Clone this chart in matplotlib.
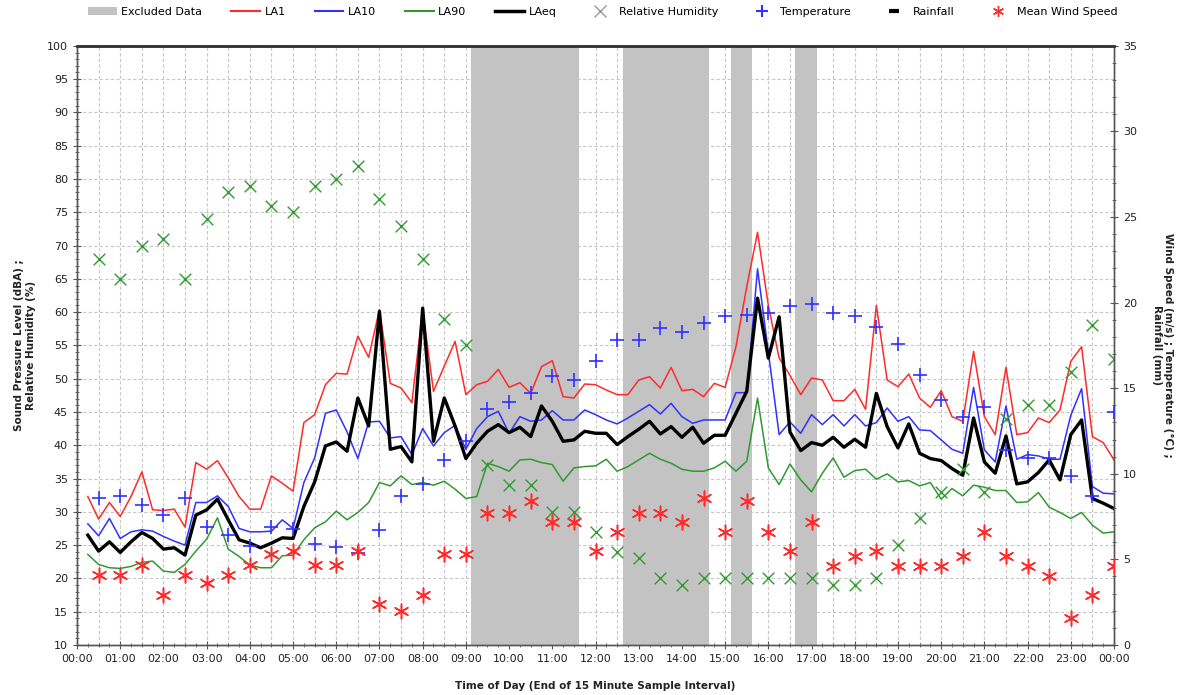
import matplotlib

matplotlib.use("Agg")
import matplotlib.pyplot as plt
import numpy as np
from matplotlib.lines import Line2D
from matplotlib.patches import Patch
from matplotlib.ticker import FuncFormatter, MultipleLocator


# 15 minute noise levels (dBA), one value per interval ending 00:15 ... 24:00
LA1 = [
    32.3, 28.9, 31.4, 29.3, 32.3, 36.0, 30.3, 30.2, 30.4, 27.7, 37.4, 36.4,
    37.7, 35.1, 32.3, 30.4, 30.4, 35.4, 34.3, 33.1, 43.4, 44.6, 49.1, 50.8,
    50.7, 56.4, 53.2, 60.4, 49.3, 48.6, 46.4, 60.4, 48.1, 51.9, 55.6, 47.6,
    49.1, 49.6, 51.4, 48.7, 49.4, 47.8, 51.8, 52.7, 47.3, 47.1, 49.2, 49.1,
    48.3, 47.6, 47.6, 49.8, 50.3, 48.6, 51.7, 48.2, 48.4, 47.3, 49.3, 48.7,
    54.8, 63.8, 72.0, 61.0, 53.1, 50.5, 47.6, 50.1, 49.8, 46.7, 46.7, 48.4,
    45.4, 61.0, 49.8, 48.8, 50.7, 47.1, 45.7, 48.2, 44.3, 43.6, 54.1, 44.3,
    41.6, 51.7, 41.6, 41.9, 44.1, 43.4, 45.3, 52.6, 54.8, 41.3, 40.4, 37.8,
]
LA10 = [
    28.2, 26.4, 29.0, 26.0, 27.0, 27.3, 27.1, 26.3, 25.6, 25.0, 31.4, 31.4,
    32.4, 30.8, 27.5, 27.0, 27.0, 27.1, 28.8, 27.5, 34.4, 38.1, 44.8, 45.3,
    42.0, 38.0, 43.5, 43.6, 41.1, 41.3, 38.6, 42.5, 39.9, 41.9, 43.0, 39.4,
    42.5, 44.3, 45.1, 41.8, 44.3, 43.6, 43.8, 45.2, 43.8, 43.8, 45.3, 44.6,
    43.8, 43.2, 44.1, 45.1, 46.1, 44.7, 46.3, 44.3, 43.3, 43.8, 43.8, 43.8,
    47.9, 47.9, 66.5, 54.0, 41.6, 43.5, 41.8, 44.6, 43.1, 44.6, 42.9, 44.6,
    42.9, 43.4, 45.6, 43.6, 44.3, 42.3, 42.2, 40.8, 39.4, 38.8, 48.7, 39.3,
    37.5, 45.9, 37.9, 38.6, 38.4, 37.9, 37.9, 44.5, 48.5, 33.8, 32.8, 32.7,
]
LA90 = [
    23.6, 22.1, 21.6, 21.5, 21.8, 22.4, 22.6, 21.1, 20.9, 22.1, 24.1, 25.9,
    29.1, 24.4, 23.3, 22.0, 21.6, 21.6, 23.4, 23.5, 25.8, 27.6, 28.5, 30.1,
    28.8, 29.9, 31.4, 34.4, 33.9, 35.4, 34.1, 34.4, 34.0, 34.6, 33.4, 32.0,
    32.3, 37.3, 36.8, 36.1, 37.8, 37.9, 37.4, 37.1, 34.6, 36.6, 36.8, 36.9,
    37.9, 36.1, 36.8, 37.8, 38.8, 37.9, 37.3, 36.4, 36.1, 36.1, 36.6, 37.6,
    36.1, 37.6, 47.1, 36.6, 34.1, 37.2, 34.8, 33.0, 35.8, 38.1, 35.2, 36.2,
    36.4, 34.9, 35.7, 34.5, 34.7, 33.9, 34.4, 31.9, 33.5, 32.4, 34.0, 33.7,
    33.2, 33.2, 31.4, 31.5, 32.9, 30.7, 29.9, 29.0, 29.9, 28.0, 26.8, 27.0,
]
LAEQ = [
    26.5, 24.1, 25.5, 23.9, 25.5, 26.9, 26.0, 24.4, 24.6, 23.5, 29.5, 30.3,
    31.9, 28.8, 25.8, 25.3, 24.6, 25.3, 26.1, 26.0, 30.8, 34.5, 39.9, 40.5,
    39.1, 47.1, 42.9, 60.1, 39.4, 39.8, 37.5, 60.6, 40.6, 47.1, 42.9, 38.0,
    40.3, 42.1, 43.1, 41.9, 42.7, 41.3, 45.9, 43.6, 40.6, 40.8, 42.1, 41.8,
    41.8, 40.1, 41.3, 42.4, 43.6, 41.7, 42.8, 41.2, 42.7, 40.3, 41.5, 41.5,
    44.8, 48.1, 62.1, 53.1, 59.3, 42.0, 39.2, 40.4, 40.0, 41.2, 39.7, 40.9,
    39.7, 47.8, 42.8, 39.6, 43.2, 38.8, 38.0, 37.7, 36.5, 35.5, 44.1, 37.5,
    35.8, 41.4, 34.2, 34.5, 35.9, 37.8, 34.8, 41.6, 43.8, 32.0, 31.3, 30.5,
]

# 30 minute weather readings, intervals ending 00:30 ... 24:00
HUMIDITY = [
    68, 65, 70, 71, 65, 74, 78, 79, 76, 75, 79, 80, 82, 77, 73, 68,
    59, 55, 37, 34, 34, 30, 30, 27, 24, 23, 20, 19, 20, 20, 20, 20,
    20, 20, 19, 19, 20, 25, 29, 33, 36.5, 33, 44, 46, 46, 51, 58, 53,
]
TEMPERATURE = [
    8.6, 8.7, 8.2, 7.6, 8.6, 6.9, 6.4, 5.8, 6.9, 6.8, 5.9, 5.7,
    5.4, 6.7, 8.7, 9.4, 10.8, 11.9, 13.8, 14.2, 14.7, 15.7, 15.5, 16.6,
    17.8, 17.8, 18.5, 18.3, 18.8, 19.2, 19.3, 19.4, 19.8, 19.9, 19.4, 19.2,
    18.6, 17.6, 15.8, 14.3, 13.3, 13.9, 11.4, 10.9, 10.9, 9.9, 8.7, 13.6,
]
WIND_SPEED = [
    4.1, 4.1, 4.7, 2.9, 4.1, 3.6, 4.1, 4.7, 5.3, 5.5, 4.7, 4.7,
    5.5, 2.4, 2.0, 2.9, 5.3, 5.3, 7.7, 7.7, 8.4, 7.2, 7.2, 5.5,
    6.6, 7.7, 7.7, 7.2, 8.6, 6.6, 8.4, 6.6, 5.5, 7.2, 4.6, 5.2,
    5.5, 4.6, 4.6, 4.6, 5.2, 6.6, 5.2, 4.6, 4.0, 1.6, 2.9, 4.6,
]

# excluded periods as (first, last) interval end times in hours
EXCLUDED = [(9.25, 11.5), (12.75, 14.5), (15.25, 15.5), (16.75, 17.0)]

noise_hours = np.arange(1, len(LA1) + 1) * 0.25
weather_hours = np.arange(1, len(HUMIDITY) + 1) * 0.5

RED = "#ff2a2a"
BLUE = "#3030ff"
GREEN = "#2f9a2f"
BAND = "#c3c3c3"
AXIS = "#555555"
GRID = "#c8c8c8"

plt.rcParams["font.family"] = "DejaVu Sans"

fig = plt.figure(figsize=(11.94, 6.95), dpi=100)
ax = fig.add_axes([0.0645, 0.072, 0.8685, 0.862])
ax2 = ax.twinx()

for start, end in EXCLUDED:
    ax.axvspan(start - 0.125, end + 0.125, color=BAND, lw=0, zorder=1)

ax.plot(noise_hours, LA1, color=RED, lw=1.1, zorder=3)
ax.plot(noise_hours, LA10, color=BLUE, lw=1.1, zorder=3)
ax.plot(noise_hours, LA90, color=GREEN, lw=1.1, zorder=3)
ax.plot(noise_hours, LAEQ, color="black", lw=2.4, zorder=4)
ax.scatter(weather_hours, HUMIDITY, marker="x", s=70, color=GREEN, lw=1.0, zorder=5)

ax2.scatter(weather_hours, TEMPERATURE, marker="+", s=110, color=BLUE, lw=1.2, zorder=5)
ax2.scatter(weather_hours, WIND_SPEED, marker=(6, 2, 0), s=110, color=RED, lw=1.1, zorder=5)

ax.set_xlim(0, 24)
ax.set_ylim(10, 100)
ax2.set_ylim(0, 35)

ax.xaxis.set_major_locator(MultipleLocator(1))
ax.xaxis.set_minor_locator(MultipleLocator(0.25))
ax.xaxis.set_major_formatter(FuncFormatter(lambda v, _: f"{int(round(v)) % 24:02d}:00"))
ax.yaxis.set_major_locator(MultipleLocator(5))
ax.yaxis.set_minor_locator(MultipleLocator(1))
ax2.yaxis.set_major_locator(MultipleLocator(5))
ax2.yaxis.set_minor_locator(MultipleLocator(1))

# grid: every half hour across, every 5 units up
ax.set_axisbelow(True)
for h in np.arange(0.5, 24, 0.5):
    ax.axvline(h, color=GRID, lw=0.8, ls=(0, (3, 2)), zorder=0.5)
ax.grid(axis="y", color=GRID, lw=0.8, ls=(0, (3, 2)))

for a in (ax, ax2):
    a.tick_params(which="both", direction="inout", colors=AXIS, labelcolor="#222222", labelsize=8)
    a.tick_params(which="major", length=6)
    a.tick_params(which="minor", length=3)
    for side, spine in a.spines.items():
        spine.set_color(AXIS)
        spine.set_linewidth(1.0)
ax.spines["top"].set_color("#333333")
ax.spines["top"].set_linewidth(1.8)
ax2.spines["top"].set_color("#333333")
ax2.spines["top"].set_linewidth(1.8)

ax.set_xlabel("Time of Day (End of 15 Minute Sample Interval)", fontsize=7.5,
              fontweight="bold", color="#222222", labelpad=12)
ax.set_ylabel("Sound Pressure Level (dBA) ;\nRelative Humidity (%)", fontsize=7.5,
              fontweight="bold", color="#222222", labelpad=8)
ax2.set_ylabel("Wind Speed (m/s) ; Temperature (°C) ;\nRainfall (mm)", fontsize=7.5,
               fontweight="bold", color="#222222", rotation=270, labelpad=26)

handles = [
    Patch(facecolor=BAND, edgecolor="none"),
    Line2D([], [], color=RED, lw=1.5),
    Line2D([], [], color=BLUE, lw=1.5),
    Line2D([], [], color=GREEN, lw=1.5),
    Line2D([], [], color="black", lw=2.5),
    Line2D([], [], color="#999999", marker="x", ls="none", markersize=8),
    Line2D([], [], color=BLUE, marker="+", ls="none", markersize=8, mew=1.5),
    Line2D([], [], color="black", marker="_", ls="none", markersize=7, mew=3),
    Line2D([], [], color=RED, marker=(6, 2, 0), ls="none", markersize=8),
]
labels = ["Excluded Data", "LA1", "LA10", "LA90", "LAeq", "Relative Humidity",
          "Temperature", "Rainfall", "Mean Wind Speed"]
fig.legend(handles, labels, loc="upper center", bbox_to_anchor=(0.505, 1.005), ncol=9,
           frameon=False, fontsize=8, handlelength=2.6, handletextpad=0.4,
           columnspacing=2.6)

fig.savefig("out.png", dpi=100)
plt.close(fig)
